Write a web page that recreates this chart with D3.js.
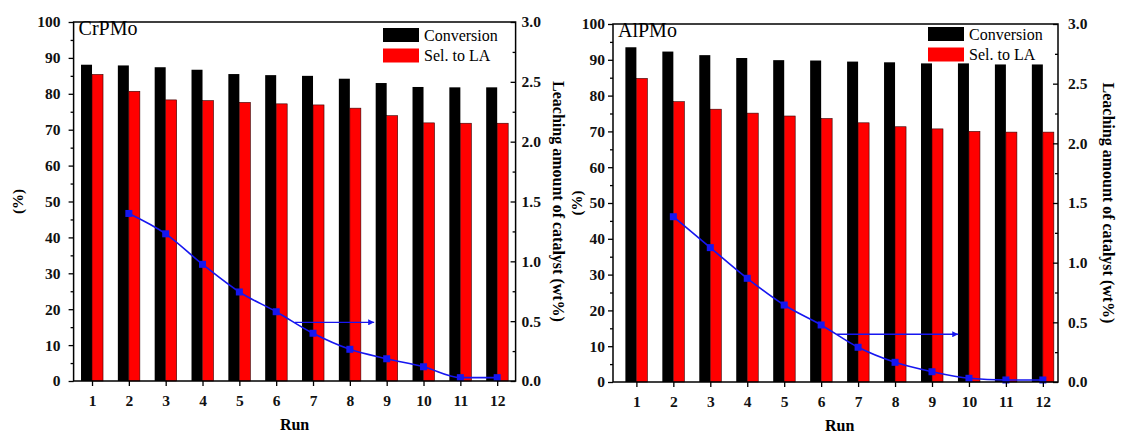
<!DOCTYPE html>
<html>
<head>
<meta charset="utf-8">
<script src="https://cdn.jsdelivr.net/npm/d3@7/dist/d3.min.js"></script>
<style>
body { margin:0; background:#fff; }
svg text { font-family: "Liberation Serif", "Times New Roman", serif; }
</style>
</head>
<body>
<svg width="1122" height="434"></svg>
<script>

// runs and the runs where leaching was measured
const runs = [1, 2, 3, 4, 5, 6, 7, 8, 9, 10, 11, 12]
const leachRuns = [2, 3, 4, 5, 6, 7, 8, 9, 10, 11, 12]

// CrPMo (left)
const crConversion = [88.1, 87.9, 87.4, 86.7, 85.5, 85.2, 85.0, 84.2, 83.0, 81.9, 81.8, 81.8]
const crSelectivity = [85.4, 80.7, 78.3, 78.1, 77.6, 77.2, 76.9, 76.0, 73.9, 71.9, 71.8, 71.8]
const crLeaching = [1.40, 1.23, 0.975, 0.744, 0.579, 0.399, 0.265, 0.186, 0.119, 0.028, 0.028]

// AlPMo (right)
const alConversion = [93.5, 92.3, 91.3, 90.5, 89.9, 89.8, 89.5, 89.3, 89.0, 89.0, 88.7, 88.7]
const alSelectivity = [84.8, 78.3, 76.2, 75.1, 74.3, 73.6, 72.4, 71.3, 70.7, 70.0, 69.8, 69.8]
const alLeaching = [1.385, 1.126, 0.869, 0.645, 0.478, 0.291, 0.165, 0.086, 0.031, 0.017, 0.017]

// ticks
const percentTicks = [0, 10, 20, 30, 40, 50, 60, 70, 80, 90, 100]
const percentMinor = [5, 15, 25, 35, 45, 55, 65, 75, 85, 95]
const leachTicks = [0, 0.5, 1.0, 1.5, 2.0, 2.5, 3.0]
const leachMinor = [0.25, 0.75, 1.25, 1.75, 2.25, 2.75]

const legendLabels = ["Conversion", "Sel. to LA"]
const barColors = ["#000000", "#ff0000"]
const lineColor = "#1616f0"
const serif = "'Liberation Serif', 'Times New Roman', serif"

const svg = d3.select("svg")

svg.append("defs").append("marker")
    .attr("id", "arrow")
    .attr("viewBox", "0 0 10 10")
    .attr("refX", 10)
    .attr("refY", 5)
    .attr("markerWidth", 10)
    .attr("markerHeight", 6)
    .attr("markerUnits", "userSpaceOnUse")
    .attr("orient", "auto")
    .append("path")
    .attr("d", "M0,0 L10,5 L0,10 Z")
    .attr("fill", lineColor)

function drawPanel(p){
    let g = svg.append("g")
    let x = d3.scaleLinear().domain(p.xDomain).range([p.left, p.right])
    let y = d3.scaleLinear().domain([0, 100]).range([p.bottom, p.top])
    let y2 = d3.scaleLinear().domain([0, 3]).range([p.bottom, p.top])
    let bw = 11

    // bars
    g.selectAll(".conv").data(runs).join("rect")
        .attr("x", d => x(d) - bw)
        .attr("y", (d, i) => y(p.conversion[i]))
        .attr("width", bw)
        .attr("height", (d, i) => y(0) - y(p.conversion[i]))
        .attr("fill", barColors[0])
    g.selectAll(".sel").data(runs).join("rect")
        .attr("x", d => x(d))
        .attr("y", (d, i) => y(p.selectivity[i]))
        .attr("width", bw)
        .attr("height", (d, i) => y(0) - y(p.selectivity[i]))
        .attr("fill", barColors[1])
        .attr("stroke", "#300")
        .attr("stroke-width", 0.6)

    // leaching line
    let pts = leachRuns.map((r, i) => ({run: r, v: p.leaching[i]}))
    let line = d3.line().x(d => x(d.run)).y(d => y2(d.v)).curve(d3.curveMonotoneX)
    g.append("path")
        .attr("d", line(pts))
        .attr("fill", "none")
        .attr("stroke", lineColor)
        .attr("stroke-width", 1.6)
    g.selectAll(".pt").data(pts).join("rect")
        .attr("x", d => x(d.run) - 3.5)
        .attr("y", d => y2(d.v) - 3.5)
        .attr("width", 7)
        .attr("height", 7)
        .attr("fill", lineColor)

    // arrow to the right axis
    g.append("line")
        .attr("x1", x(p.arrow[0]))
        .attr("x2", x(p.arrow[1]))
        .attr("y1", y2(p.arrow[2]))
        .attr("y2", y2(p.arrow[2]))
        .attr("stroke", lineColor)
        .attr("stroke-width", 1.4)
        .attr("marker-end", "url(#arrow)")

    // axes
    g.append("g").attr("transform", `translate(${p.left},0)`)
        .call(d3.axisLeft(y).tickValues(percentTicks).tickSize(5).tickPadding(p.leftPad))
    g.append("g").attr("transform", `translate(${p.left},0)`)
        .call(d3.axisLeft(y).tickValues(percentMinor).tickSize(3).tickFormat(""))
    g.append("g").attr("transform", `translate(${p.right},0)`)
        .call(d3.axisRight(y2).tickValues(leachTicks).tickSize(-5).tickPadding(p.rightPad).tickFormat(d3.format(".1f")))
    g.append("g").attr("transform", `translate(${p.right},0)`)
        .call(d3.axisRight(y2).tickValues(leachMinor).tickSize(-3).tickFormat(""))
    g.append("g").attr("transform", `translate(0,${p.bottom})`)
        .call(d3.axisBottom(x).tickValues(runs).tickSize(5).tickPadding(9).tickFormat(d3.format("d")))

    g.selectAll(".domain").remove()
    g.selectAll(".tick line").attr("stroke", "#000").attr("stroke-width", 1.3)
    g.selectAll(".tick text")
        .attr("font-family", serif)
        .attr("font-size", 15.5)
        .attr("font-weight", "bold")
        .attr("fill", "#111")

    // frame
    g.append("rect")
        .attr("x", p.left)
        .attr("y", p.top)
        .attr("width", p.right - p.left)
        .attr("height", p.bottom - p.top)
        .attr("fill", "none")
        .attr("stroke", "#000")
        .attr("stroke-width", 1.5)

    // legend
    legendLabels.forEach((lab, i) => {
        g.append("rect")
            .attr("x", p.legend[0])
            .attr("y", p.legend[1] + i * 20.5)
            .attr("width", 36)
            .attr("height", 14)
            .attr("fill", barColors[i])
        g.append("text")
            .attr("x", p.legend[0] + 41)
            .attr("y", p.legend[1] + i * 20.5 + 12.5)
            .attr("font-family", serif)
            .attr("font-size", 16)
            .text(lab)
    })

    g.append("text")
        .attr("x", p.left + 5)
        .attr("y", p.top + 13)
        .attr("font-family", serif)
        .attr("font-size", 20)
        .text(p.name)

    // titles
    g.append("text")
        .attr("transform", `translate(${p.leftTitleX},${(p.top + p.bottom) / 2}) rotate(-90)`)
        .attr("text-anchor", "middle")
        .attr("dominant-baseline", "central")
        .attr("font-family", serif)
        .attr("font-size", 15)
        .attr("font-weight", "bold")
        .text("(%)")
    g.append("text")
        .attr("transform", `translate(${p.rightTitleX},${(p.top + p.bottom) / 2}) rotate(90)`)
        .attr("text-anchor", "middle")
        .attr("dominant-baseline", "central")
        .attr("font-family", serif)
        .attr("font-size", 16)
        .attr("font-weight", "bold")
        .text("Leaching amount of catalyst (wt%)")
    g.append("text")
        .attr("x", (x(1) + x(12)) / 2)
        .attr("y", p.bottom + 49)
        .attr("text-anchor", "middle")
        .attr("font-family", serif)
        .attr("font-size", 16)
        .attr("font-weight", "bold")
        .text("Run")
}

drawPanel({
    name: "CrPMo",
    left: 73.6, right: 515.6, top: 22, bottom: 381,
    xDomain: [0.5, 12.5],
    conversion: crConversion, selectivity: crSelectivity, leaching: crLeaching,
    arrow: [6.51, 8.66, 0.49],
    leftPad: 8, rightPad: 6,
    legend: [383, 28],
    leftTitleX: 18, rightTitleX: 558
})

drawPanel({
    name: "AlPMo",
    left: 613, right: 1058, top: 24, bottom: 382,
    xDomain: [0.367, 12.41],
    conversion: alConversion, selectivity: alSelectivity, leaching: alLeaching,
    arrow: [6.42, 9.71, 0.40],
    leftPad: 3, rightPad: 10,
    legend: [928, 27],
    leftTitleX: 577, rightTitleX: 1108
})

</script>
</body>
</html>
